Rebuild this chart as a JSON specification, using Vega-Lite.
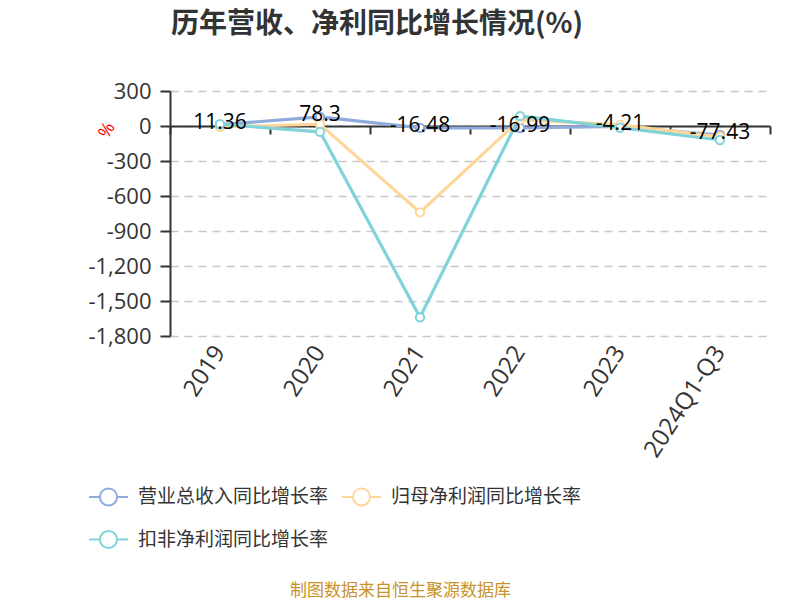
{
  "$schema": "https://vega.github.io/schema/vega-lite/v6.json",
  "width": 600,
  "height": 245,
  "autosize": {"type": "none"},
  "padding": {"left": 170, "top": 91, "right": 30, "bottom": 264},
  "background": "white",
  "config": {
    "font": "Open Sans, Noto Sans CJK SC, sans-serif",
    "view": {"stroke": null},
    "legend": {"orient": "none"}
  },
  "title": {
    "text": "历年营收、净利同比增长情况(%)",
    "fontSize": 28,
    "fontWeight": "bold",
    "color": "#333333",
    "font": "Noto Sans CJK SC, sans-serif",
    "anchor": "middle",
    "dx": -93,
    "offset": 41
  },
  "data": {
    "values": [
      {"year": "2019", "series": "营业总收入同比增长率", "value": 11.36},
      {"year": "2020", "series": "营业总收入同比增长率", "value": 78.3},
      {"year": "2021", "series": "营业总收入同比增长率", "value": -16.48},
      {"year": "2022", "series": "营业总收入同比增长率", "value": -16.99},
      {"year": "2023", "series": "营业总收入同比增长率", "value": -4.21},
      {"year": "2024Q1-Q3", "series": "营业总收入同比增长率", "value": -77.43},
      {"year": "2019", "series": "归母净利润同比增长率", "value": -8},
      {"year": "2020", "series": "归母净利润同比增长率", "value": 15},
      {"year": "2021", "series": "归母净利润同比增长率", "value": -740},
      {"year": "2022", "series": "归母净利润同比增长率", "value": 55},
      {"year": "2023", "series": "归母净利润同比增长率", "value": 10},
      {"year": "2024Q1-Q3", "series": "归母净利润同比增长率", "value": -92},
      {"year": "2019", "series": "扣非净利润同比增长率", "value": 15},
      {"year": "2020", "series": "扣非净利润同比增长率", "value": -50},
      {"year": "2021", "series": "扣非净利润同比增长率", "value": -1640},
      {"year": "2022", "series": "扣非净利润同比增长率", "value": 85},
      {"year": "2023", "series": "扣非净利润同比增长率", "value": -15},
      {"year": "2024Q1-Q3", "series": "扣非净利润同比增长率", "value": -120}
    ]
  },
  "encoding": {
    "y": {
      "field": "value", "type": "quantitative",
      "scale": {"domain": [-1800, 300], "nice": false, "zero": false},
      "axis": {
        "values": [-1800, -1500, -1200, -900, -600, -300, 0, 300],
        "labelExpr": "replace(format(datum.value, ','), '−', '-')",
        "labelFontSize": 22,
        "labelColor": "#333333",
        "labelPadding": 9,
        "tickSize": 10,
        "tickColor": "#333333",
        "tickWidth": 2,
        "domainColor": "#333333",
        "domainWidth": 2,
        "grid": true,
        "gridColor": "#c8c8c8",
        "gridDash": [8, 6],
        "gridWidth": 1.5,
        "title": "%",
        "titleColor": "#ff0000",
        "titleFontSize": 18,
        "titleFontWeight": "normal",
        "titleX": -63,
        "titleY": 39,
        "titleAngle": -60,
        "titleAlign": "center",
        "titleBaseline": "middle"
      }
    }
  },
  "resolve": {"axis": {"x": "independent"}},
  "layer": [
    {
      "mark": {"type": "line", "strokeWidth": 3.2},
      "encoding": {
        "x": {
          "field": "year", "type": "nominal", "sort": null,
          "scale": {"type": "band", "paddingInner": 0, "paddingOuter": 0},
          "axis": {
            "orient": "bottom",
            "domain": false,
            "ticks": false,
            "grid": false,
            "labelAngle": -57,
            "labelAlign": "right",
            "labelBaseline": "middle",
            "labelPadding": 12,
            "labelFontSize": 24,
            "labelColor": "#333333",
            "title": "制图数据来自恒生聚源数据库",
            "titleFontSize": 17,
            "titleFontWeight": "normal",
            "titleColor": "#c8922a",
            "titleFont": "Noto Sans CJK SC, sans-serif",
            "titleX": 230,
            "titleY": 254,
            "titleAlign": "center",
            "titleBaseline": "middle"
          }
        },
        "color": {
          "field": "series", "type": "nominal",
          "scale": {
            "domain": ["营业总收入同比增长率", "归母净利润同比增长率", "扣非净利润同比增长率"],
            "range": ["#8faadc", "#ffd699", "#7fd3d9"]
          },
          "legend": {
            "title": null,
            "orient": "none",
            "legendX": -82,
            "legendY": 385,
            "columns": 2,
            "direction": "horizontal",
            "padding": 0,
            "columnPadding": 9,
            "rowPadding": 9,
            "labelFontSize": 19,
            "labelLimit": 0,
            "labelColor": "#333333",
            "labelFont": "Noto Sans CJK SC, sans-serif",
            "labelOffset": 9,
            "symbolType": "M -1 0 L -0.44 0 M -0.44 0 A 0.44 0.44 0 1 1 0.44 0 A 0.44 0.44 0 1 1 -0.44 0 M 0.44 0 L 1 0",
            "symbolSize": 1520,
            "symbolStrokeWidth": 2,
            "symbolFillColor": "white"
          }
        }
      }
    },
    {
      "mark": {"type": "point", "shape": "circle", "filled": false, "fill": "white", "fillOpacity": 1, "opacity": 1, "strokeWidth": 2, "size": 70},
      "encoding": {
        "x": {
          "field": "year", "type": "nominal", "sort": null,
          "axis": {
            "orient": "bottom",
            "offset": -210,
            "labels": false,
            "grid": false,
            "domain": true,
            "domainColor": "#333333",
            "domainWidth": 2,
            "ticks": true,
            "tickSize": 8,
            "tickColor": "#333333",
            "tickWidth": 2,
            "tickBand": "extent",
            "title": null
          }
        },
        "color": {"field": "series", "type": "nominal"}
      }
    },
    {
      "transform": [{"filter": "datum.series === '营业总收入同比增长率'"}],
      "mark": {"type": "text", "fontSize": 21, "color": "#000000", "baseline": "middle", "dy": -2},
      "encoding": {
        "x": {"field": "year", "type": "nominal", "sort": null, "axis": null},
        "text": {"field": "value", "type": "nominal"}
      }
    }
  ]
}
